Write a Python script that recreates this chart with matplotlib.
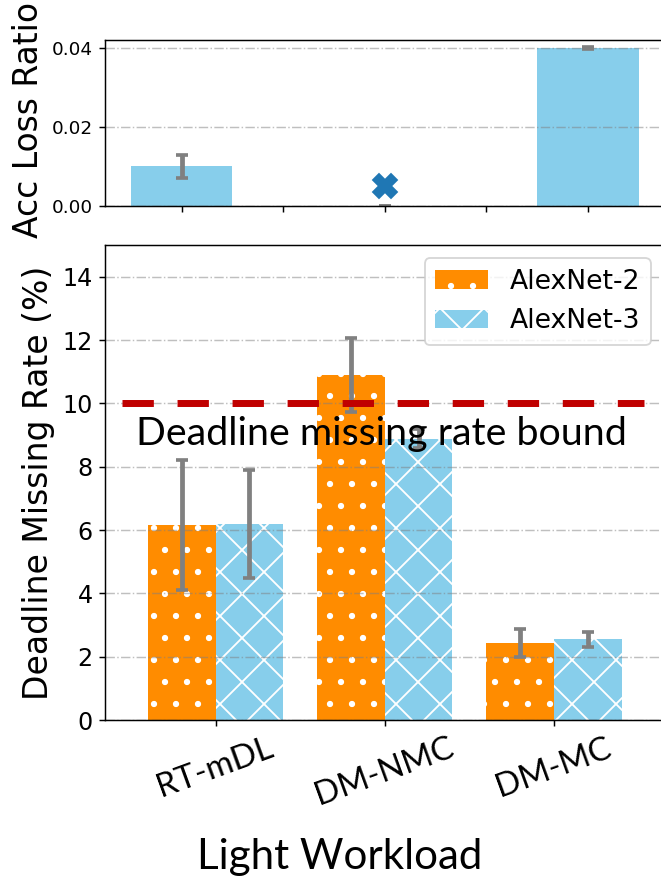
import numpy as np
import matplotlib
matplotlib.use("Agg")
import matplotlib.pyplot as plt

# accuracy loss per method (top panel)
methods = ["RT-mDL", "DM-NMC", "DM-MC"]
acc_loss = [0.010, 0.0, 0.040]
acc_loss_err = [0.0028, 0.0, 0.0003]
nmc_marker = 0.005  # DM-NMC has no accuracy loss bar, only a cross

# deadline missing rate in % (bottom panel)
alexnet2 = [6.15, 10.9, 2.43]
alexnet2_err = [2.05, 1.17, 0.44]
alexnet3 = [6.2, 8.88, 2.55]
alexnet3_err = [1.7, 0.3, 0.24]
bound = 10

orange = "#ff8c00"
blue = "#87ceeb"
err_kw = dict(ecolor="gray", elinewidth=2.6, capsize=3.4, capthick=2)

fig = plt.figure(figsize=(661 / 132, 881 / 132), dpi=132)
ax1 = fig.add_axes([0.1596, 0.7662, 0.845, 0.1884])
ax2 = fig.add_axes([0.1596, 0.1827, 0.845, 0.5392])

# --- top: accuracy loss ratio
xt = np.arange(len(methods)) * 2
ax1.bar(xt, acc_loss, width=1.0, color=blue, yerr=acc_loss_err, error_kw=err_kw)
ax1.plot(xt[1], nmc_marker, marker="X", color="tab:blue", markersize=13.5, linestyle="none")
ax1.set_xlim(-0.75, 4.75)
ax1.set_ylim(0, 0.042)
ax1.set_xticks(np.arange(5))
ax1.set_xticklabels([])
ax1.set_yticks([0, 0.02, 0.04])
ax1.set_yticklabels(["0.00", "0.02", "0.04"])
ax1.tick_params(labelsize=10)
ax1.grid(axis="y", linestyle="-.", color="gray", alpha=0.5, linewidth=0.8)
ax1.set_ylabel("Acc Loss Ratio", fontsize=18)
ax1.yaxis.set_label_coords(-0.108, 0.52)

# --- bottom: deadline missing rate
x = np.arange(len(methods))
w = 0.4
ax2.bar(x - w / 2, alexnet2, width=w, color=orange, edgecolor="white", linewidth=0,
        hatch=".", yerr=alexnet2_err, error_kw=err_kw, label="AlexNet-2")
ax2.bar(x + w / 2, alexnet3, width=w, color=blue, edgecolor="white", linewidth=0,
        hatch="x", yerr=alexnet3_err, error_kw=err_kw, label="AlexNet-3")
ax2.hlines(bound, -0.55, 2.53, colors="#c00000", linewidth=3.8, linestyles=(0, (4.5, 3.4)), zorder=5)
ax2.text(0.98, 8.69, "Deadline missing rate bound", fontsize=21.5, family="Lato",
         ha="center", va="baseline", zorder=6)
ax2.set_xlim(-0.65, 2.65)
ax2.set_ylim(0, 15)
ax2.set_yticks(np.arange(0, 15, 2))
ax2.set_xticks(x)
ax2.set_xticklabels(methods, rotation=20, fontsize=18, family="Lato")
ax2.tick_params(axis="y", labelsize=13)
ax2.grid(axis="y", linestyle="-.", color="gray", alpha=0.5, linewidth=0.8)
ax2.set_ylabel("Deadline Missing Rate (%)", fontsize=18)
ax2.yaxis.set_label_coords(-0.09, 0.5)
ax2.legend(loc="upper right", fontsize=14.5)

fig.text(340 / 661, 12 / 881, "Light Workload", fontsize=23, family="Lato",
         ha="center", va="baseline")

fig.savefig("out.png", dpi=132)
